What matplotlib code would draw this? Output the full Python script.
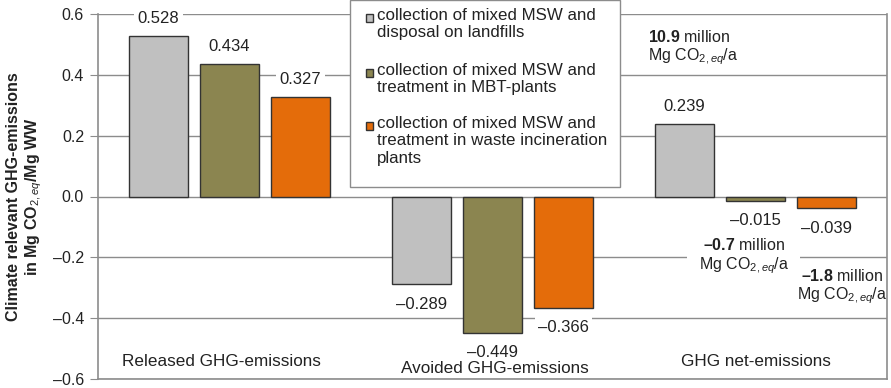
import numpy as np
import matplotlib.pyplot as plt
from matplotlib.patches import Rectangle

plt.rcParams["font.family"] = ["Liberation Sans", "DejaVu Sans"]
plt.rcParams["font.size"] = 12
plt.rcParams["mathtext.fontset"] = "custom"
plt.rcParams["mathtext.rm"] = "Liberation Sans"
plt.rcParams["mathtext.it"] = "Liberation Sans:italic"
plt.rcParams["mathtext.bf"] = "Liberation Sans:bold"

groups = ["Released GHG-emissions", "Avoided GHG-emissions", "GHG net-emissions"]
series = [
    "collection of mixed MSW and\ndisposal on landfills",
    "collection of mixed MSW and\ntreatment in MBT-plants",
    "collection of mixed MSW and\ntreatment in waste incineration\nplants",
]
landfill = [0.528, -0.289, 0.239]
mbt = [0.434, -0.449, -0.015]
incineration = [0.327, -0.366, -0.039]
totals = ["10.9", "\u20130.7", "\u20131.8"]  # million Mg CO2,eq per year
colors = ["#c0c0c0", "#8b8550", "#e46c0a"]
yticks = [-0.6, -0.4, -0.2, 0.0, 0.2, 0.4, 0.6]
TXT = "#222222"
GRID = "#8c8c8c"

def fmt(v):
    s = "%.3f" % abs(v)
    return ("\u2013" + s) if v < 0 else s

W, H = 891, 388
fig = plt.figure(figsize=(W / 100, H / 100), dpi=100)
ax = fig.add_axes([98 / W, 9 / H, 789 / W, 365 / H])

def px(x, y):
    # pixel position (from top-left) -> figure fraction
    return x / W, 1 - y / H

x = np.arange(len(groups))
w = 0.228
step = 0.27
for i, (vals, c) in enumerate(zip([landfill, mbt, incineration], colors)):
    xs = x + (i - 1) * step
    ax.bar(xs, vals, w, color=c, edgecolor="#333333", linewidth=1.0, zorder=3)
    for xi, v in zip(xs, vals):
        off = 0.033 if v >= 0 else -0.04
        ax.text(xi, v + off, fmt(v), ha="center", va="bottom" if v >= 0 else "top",
                fontsize=12, color=TXT, zorder=6,
                bbox=dict(facecolor="white", edgecolor="none", pad=2.5))

ax.set_xlim(-0.5, 2.5)
ax.set_ylim(-0.6, 0.6)
ax.set_yticks(yticks)
ax.set_yticklabels([("\u2013%.1f" % abs(t)) if t < 0 else "%.1f" % t for t in yticks])
ax.set_xticks([])
ax.tick_params(axis="y", length=6, color=GRID, labelsize=11.5, labelcolor=TXT, pad=4)
ax.yaxis.grid(True, color=GRID, linewidth=1.0, zorder=0)
for s in ["left", "bottom", "right"]:
    ax.spines[s].set_color(GRID)
    ax.spines[s].set_linewidth(1.2)
ax.spines["top"].set_visible(False)

for xi, dx, yy, g in zip(x, [-0.03, 0.01, 0.0], [-0.544, -0.565, -0.541], groups):
    ax.text(xi + dx, yy, g, ha="center", va="center", fontsize=12.3, color=TXT,
            zorder=7, bbox=dict(facecolor="white", edgecolor="none", pad=0.5))

ax.set_ylabel("Climate relevant GHG-emissions\nin Mg CO$_{2,eq}$/Mg WW",
              fontweight="bold", fontsize=11.5, labelpad=6, color=TXT)

# yearly totals for the net emissions
unit = "\nMg CO$_{2,eq}$/a"
ax.text(1.59, 0.488, "$\\mathbf{%s}$ million" % totals[0] + unit, ha="left", va="center",
        fontsize=11.5, color=TXT, linespacing=1.15, zorder=4)
ax.text(1.955, -0.198, "$\\mathbf{%s}$ million" % totals[1] + unit, ha="center",
        va="center", fontsize=11.5, color=TXT, linespacing=1.15, zorder=4,
        bbox=dict(facecolor="white", edgecolor="none", pad=8))
ax.text(2.33, -0.298, "$\\mathbf{%s}$ million" % totals[2] + unit, ha="center",
        va="center", fontsize=11.5, color=TXT, linespacing=1.15, zorder=5)

# legend box with the swatch beside the first line of each entry
x0, y0 = px(350, 0)
x1, y1 = px(620, 187)
fig.add_artist(Rectangle((x0, y1), x1 - x0, y0 - y1, transform=fig.transFigure,
                         facecolor="white", edgecolor=GRID, linewidth=1.0, zorder=10))
for lab, c, ty in zip(series, colors, [18, 73, 126]):
    sx, sy = px(366, ty + 4)
    fig.add_artist(Rectangle((sx, sy), 7 / W, 8 / H, transform=fig.transFigure,
                             facecolor=c, edgecolor="#333333", linewidth=1.0, zorder=11))
    tx, tyf = px(377, ty - 10)
    fig.text(tx, tyf, lab, ha="left", va="top", fontsize=12.2, color=TXT,
             linespacing=1.2, zorder=11)

fig.savefig("out.png", dpi=100)
